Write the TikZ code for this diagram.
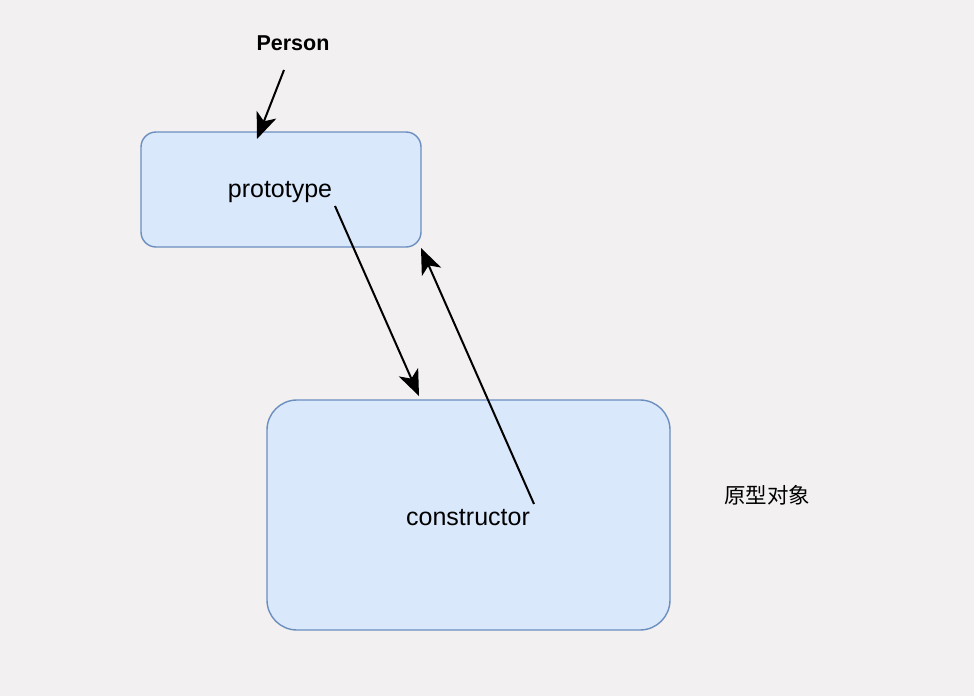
\documentclass[tikz,border=0pt]{standalone}
\usepackage{fontspec}
\setmainfont{Liberation Sans}
\newfontfamily\cjk{Noto Sans CJK SC}
\usepackage{tikz}
\usetikzlibrary{calc}
\usetikzlibrary{arrows.meta}
\definecolor{bgcol}{HTML}{F2F0F0}
\definecolor{boxfill}{HTML}{DAE8FC}
\definecolor{boxline}{HTML}{6C8EBF}
\tikzstyle{every node}=[font=\fontsize{25}{30}\selectfont]
\tikzstyle{objbox}=[draw=boxline, fill=boxfill, line width=1.4pt]
\tikzstyle{link}=[-{Stealth[length=26pt, width=21pt, inset=7pt]}, line width=2pt]

\begin{document}
\begin{tikzpicture}[x=1pt, y=-1pt]
        \fill [bgcol] (0, 0) rectangle (974, 696);
        \useasboundingbox (0, 0) rectangle (974, 696);
        \draw [objbox, rounded corners=15pt] (141, 132) rectangle (421, 247);
        \draw [objbox, rounded corners=30pt] (267, 400) rectangle (670, 630);
        \node (person) at (293, 43) {\fontsize{21.5}{26}\selectfont\bfseries Person};
        \node (proto) at (280, 192) {prototype};
        \node (ctor) at (468, 518) {constructor};
        \node (label) at (767, 495) {\cjk\fontsize{21.5}{26}\selectfont 原型对象};
        \coordinate (pa) at (284, 70);
        \coordinate (pb) at (257, 139);
        \coordinate (qa) at (335, 206);
        \coordinate (qb) at (419, 396);
        \coordinate (ra) at (534, 504);
        \coordinate (rb) at (421, 248);
        \draw [link] (pa) -- (pb);
        \draw [link] (qa) -- (qb);
        \draw [link] (ra) -- (rb);
;
    \end{tikzpicture}
\end{document}
